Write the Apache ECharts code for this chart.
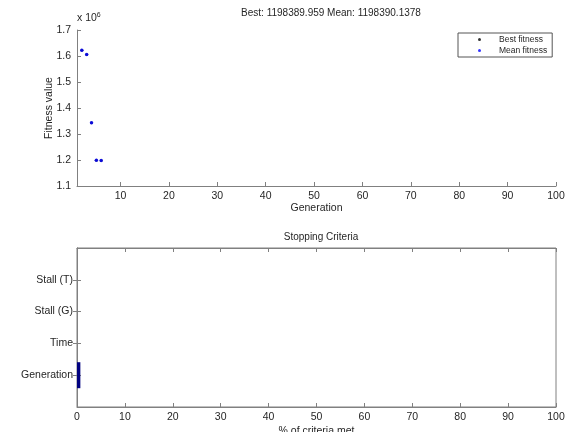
<!DOCTYPE html>
<html>
<head>
<meta charset="utf-8">
<script src="https://cdn.jsdelivr.net/npm/echarts@6/dist/echarts.min.js"></script>
<style>html,body{margin:0;padding:0;background:#fff}#c{width:567px;height:432px}</style>
</head>
<body>
<div id="c"></div>
<script>
// ---- data ----
var generations = [2, 3, 4, 5, 6];
var bestFitness = [1622000, 1606000, 1343000, 1199000, 1198389.959];
var meanFitness = [1622000, 1606000, 1343000, 1199000, 1198390.1378];
var genTicks = [10, 20, 30, 40, 50, 60, 70, 80, 90, 100];
var criteria = ['Generation', 'Time', 'Stall (G)', 'Stall (T)'];
var criteriaMet = [0.7, 0, 0, 0];
var titleText = 'Best: 1198389.959 Mean: 1198390.1378';

var FONT = 'Liberation Sans, Arial, sans-serif';
var TXT = '#262626';
var AX = '#808080';
var FS = 10.5;

function pairs(xs, ys) { return xs.map(function (x, i) { return [x, ys[i]]; }); }
var catData = [''].concat(criteria).concat(['']);
var barData = [null].concat(criteriaMet).concat([null]);
function inner(i) { return i > 0 && i < catData.length - 1; }

var chart = echarts.init(document.getElementById('c'), null, {renderer: 'canvas'});
var lineStyle = {color: AX, width: 1};
var option = {
  animation: false,
  backgroundColor: '#fff',
  textStyle: {fontFamily: FONT, color: TXT},
  title: [
    {text: titleText, left: 326, textAlign: 'center', top: 3,
     textStyle: {fontFamily: FONT, fontSize: 10, fontWeight: 'normal', color: TXT}},
    {text: 'Stopping Criteria', left: 316, textAlign: 'center', top: 227,
     textStyle: {fontFamily: FONT, fontSize: 10, fontWeight: 'normal', color: TXT}}
  ],
  legend: {
    data: ['Best fitness', 'Mean fitness'],
    orient: 'vertical', left: 458, top: 33,
    borderColor: '#555', borderWidth: 1, padding: [2, 5, 2, 20],
    itemWidth: 3, itemHeight: 3, itemGap: 2, icon: 'circle',
    textStyle: {fontFamily: FONT, fontSize: 8.5, color: TXT, padding: [0, 0, 0, 13]}
  },
  graphic: [{
    type: 'text', left: 77, top: 12,
    style: {text: 'x 10{s|6}', font: FS + 'px ' + FONT, fill: TXT,
      rich: {s: {fontSize: 7, verticalAlign: 'top', padding: [0, 0, 6, 0], fill: TXT}}}
  }],
  grid: [
    {left: 77, right: 11, top: 30, height: 156, outerBoundsMode: 'none', containLabel: false},
    {left: 77, right: 11, top: 248, height: 159, outerBoundsMode: 'none', containLabel: false,
     show: true, borderColor: AX, borderWidth: 1, backgroundColor: 'transparent'}
  ],
  xAxis: [
    {gridIndex: 0, type: 'value', min: 1, max: 100,
     name: 'Generation', nameLocation: 'middle', nameGap: 17, nameMoveOverlap: false,
     nameTextStyle: {fontFamily: FONT, fontSize: FS, color: TXT, verticalAlign: 'top'},
     axisLine: {show: true, lineStyle: lineStyle},
     axisTick: {show: true, inside: true, length: 4, lineStyle: lineStyle, customValues: genTicks},
     axisLabel: {customValues: genTicks, margin: 5, fontFamily: FONT, fontSize: FS, color: TXT},
     splitLine: {show: false}},
    {gridIndex: 1, type: 'value', min: 0, max: 100, interval: 10,
     name: '% of criteria met', nameLocation: 'middle', nameGap: 19, nameMoveOverlap: false,
     nameTextStyle: {fontFamily: FONT, fontSize: FS, color: TXT, verticalAlign: 'top'},
     axisLine: {show: true, lineStyle: lineStyle},
     axisTick: {show: true, inside: true, length: 4, lineStyle: lineStyle},
     axisLabel: {margin: 5, fontFamily: FONT, fontSize: FS, color: TXT},
     splitLine: {show: false}},
    {gridIndex: 1, type: 'value', position: 'top', min: 0, max: 100, interval: 10,
     axisLine: {show: true, lineStyle: lineStyle},
     axisTick: {show: true, inside: true, length: 4, lineStyle: lineStyle},
     axisLabel: {show: false}, splitLine: {show: false}}
  ],
  yAxis: [
    {gridIndex: 0, type: 'value', min: 1100000, max: 1700000, interval: 100000,
     name: 'Fitness value', nameLocation: 'middle', nameGap: 22, nameRotate: 90, nameMoveOverlap: false,
     nameTextStyle: {fontFamily: FONT, fontSize: FS, color: TXT},
     axisLine: {show: true, lineStyle: lineStyle},
     axisTick: {show: true, inside: true, length: 4, lineStyle: lineStyle},
     axisLabel: {margin: 6, fontFamily: FONT, fontSize: FS, color: TXT,
       formatter: function (v) { return (v / 1e6).toFixed(1); }},
     splitLine: {show: false}},
    {gridIndex: 1, type: 'category', data: catData, boundaryGap: false,
     axisLine: {show: true, lineStyle: lineStyle},
     axisTick: {show: true, inside: true, length: 4, lineStyle: lineStyle, interval: inner},
     axisLabel: {margin: 4, fontFamily: FONT, fontSize: FS, color: TXT, interval: inner},
     splitLine: {show: false}},
    {gridIndex: 1, type: 'category', data: catData, boundaryGap: false, position: 'right',
     axisLine: {show: true, lineStyle: lineStyle},
     axisTick: {show: true, inside: true, length: 4, lineStyle: lineStyle, interval: inner},
     axisLabel: {show: false}, splitLine: {show: false}}
  ],
  series: [
    {name: 'Best fitness', type: 'scatter', xAxisIndex: 0, yAxisIndex: 0,
     symbol: 'circle', symbolSize: 3, itemStyle: {color: '#000000'},
     data: pairs(generations, bestFitness)},
    {name: 'Mean fitness', type: 'scatter', xAxisIndex: 0, yAxisIndex: 0,
     symbol: 'circle', symbolSize: 3.5, itemStyle: {color: '#0000ff'},
     data: pairs(generations, meanFitness)},
    {name: 'criteria', type: 'bar', xAxisIndex: 1, yAxisIndex: 1,
     barWidth: 26, itemStyle: {color: '#000080'}, data: barData}
  ]
};
chart.setOption(option);
</script>
</body>
</html>
